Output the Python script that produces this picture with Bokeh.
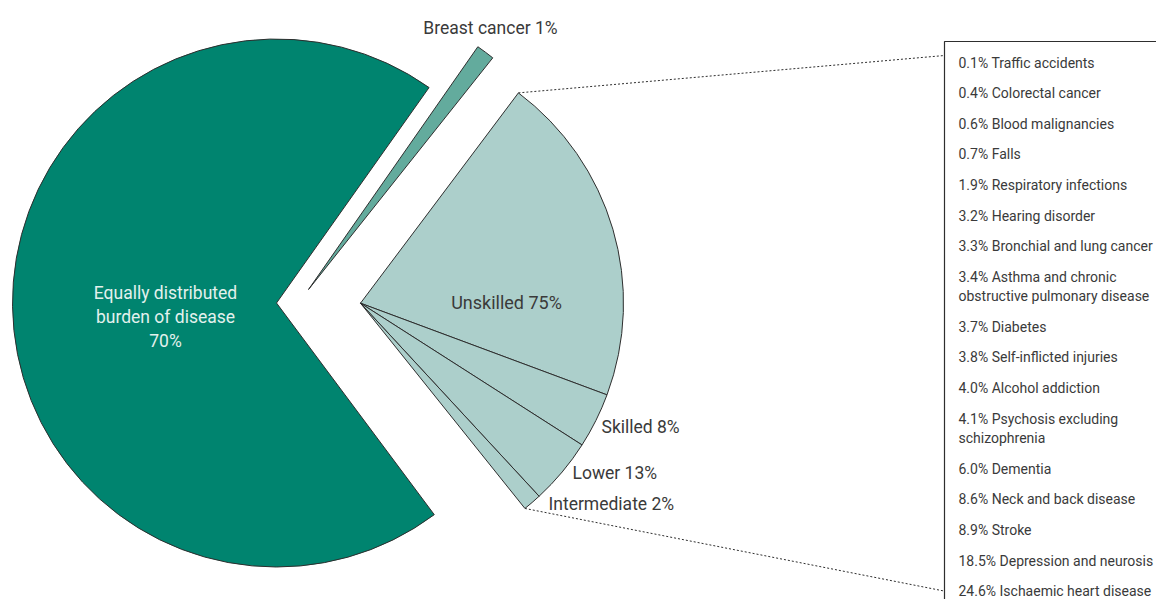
import math
from bokeh.plotting import figure
from bokeh.models import Range1d, ColumnDataSource
from bokeh.core.properties import value
from bokeh.embed import file_html
from bokeh.resources import INLINE

# ---------------- data ----------------
main_names = ["Equally distributed\nburden of disease\n70%", "Breast cancer 1%", "Inequality"]
main_values = [70, 1, 29]

sub_names = ["Unskilled", "Skilled", "Lower", "Intermediate"]
sub_values = [75, 8, 13, 2]                 # printed shares
sub_drawn = [70.4, 11.7, 14.0, 3.9]         # angular shares as drawn in the reference (% of wedge)

disease_pct = [0.1, 0.4, 0.6, 0.7, 1.9, 3.2, 3.3, 3.4, 3.7, 3.8, 4.0, 4.1,
               6.0, 8.6, 8.9, 18.5, 24.6]
disease_names = ["Traffic accidents", "Colorectal cancer", "Blood malignancies", "Falls",
                 "Respiratory infections", "Hearing disorder", "Bronchial and lung cancer",
                 "Asthma and chronic\nobstructive pulmonary disease", "Diabetes",
                 "Self-inflicted injuries", "Alcohol addiction",
                 "Psychosis excluding\nschizophrenia", "Dementia", "Neck and back disease",
                 "Stroke", "Depression and neurosis", "Ischaemic heart disease"]

# ---------------- style / layout ----------------
W, H = 1156, 599
PAGE_H = 615
FONT = value("Roboto")
DARK = "#00846f"
MID = "#63ab9d"
LIGHT = "#accfcb"
EDGE = "#2e2e2e"
TXT = "#3a3a3a"

def Y(y):  # picture pixel row -> data y
    return PAGE_H - y

R = math.radians

p = figure(width=W, height=H, output_backend="svg", toolbar_location=None,
           x_range=Range1d(0, W), y_range=Range1d(PAGE_H - H, PAGE_H),
           min_border=0, outline_line_color=None, background_fill_color="white",
           border_fill_color="white")
p.axis.visible = False
p.grid.visible = False

deg = 360.0 / sum(main_values)

# dark wedge (equally distributed)
d_cx, d_cy, d_r, d_mid = 276, 302.5, 264, 180.7
d_span = main_values[0] * deg
p.wedge(x=d_cx, y=Y(d_cy), radius=d_r, start_angle=R(d_mid - d_span / 2),
        end_angle=R(d_mid + d_span / 2),
        fill_color=DARK, line_color=EDGE, line_width=1)

# breast cancer wedge (exploded)
b_cx, b_cy, b_r, b_mid = 308, 289, 296, 53.3
b_span = main_values[1] * deg
p.wedge(x=b_cx, y=Y(b_cy), radius=b_r, start_angle=R(b_mid - b_span / 2),
        end_angle=R(b_mid + b_span / 2),
        fill_color=MID, line_color=EDGE, line_width=1)

# inequality wedge, split into sub slices
l_cx, l_cy, l_r, l_mid = 360, 302.7, 263, 0.9
l_span = main_values[2] * deg
top = l_mid + l_span / 2
starts, ends = [], []
a = top
tot = sum(sub_drawn)
for s in sub_drawn:
    span = l_span * s / tot
    ends.append(R(a))
    starts.append(R(a - span))
    a -= span
src = ColumnDataSource(dict(start=starts, end=ends))
p.wedge(x=l_cx, y=Y(l_cy), radius=l_r, start_angle="start", end_angle="end",
        source=src, fill_color=LIGHT, line_color=EDGE, line_width=1)

# legend rows in box
row0, gap, sub_gap = 62, 30.6, 19.5
xs, ys, ts = [], [], []
y = row0
for pct, name in zip(disease_pct, disease_names):
    lines = name.split("\n")
    for i, ln in enumerate(lines):
        xs.append(958)
        ys.append(Y(y + sub_gap * i))
        ts.append(("%.1f%% " % pct + ln) if i == 0 else ln)
    last_row = y
    y += gap + sub_gap * (len(lines) - 1)

# connector lines to the box
box_x, box_top = 944, 41
top_corner = (l_cx + l_r * math.cos(R(top)), l_cy - l_r * math.sin(R(top)))
bot_a = top - l_span
bot_corner = (l_cx + l_r * math.cos(R(bot_a)), l_cy - l_r * math.sin(R(bot_a)))
p.line([top_corner[0], box_x], [Y(top_corner[1]), Y(row0 - 7)], line_color=EDGE,
       line_width=1, line_dash="2 2")
p.line([bot_corner[0], box_x], [Y(bot_corner[1]), Y(last_row)], line_color=EDGE,
       line_width=1, line_dash="2 2")

# box
p.line([box_x, box_x, 1200], [Y(640), Y(box_top), Y(box_top)], line_color=EDGE, line_width=1.2)

p.text(x=xs, y=ys, text=ts, text_font=FONT, text_font_size="14px", text_color=TXT,
       text_baseline="middle", text_align="left")

# labels
eq_lines = main_names[0].split("\n")
p.text(x=[165] * 3, y=[Y(292), Y(316), Y(340)], text=eq_lines, text_font=FONT,
       text_font_size="17.5px", text_color="#e3f1ed", text_align="center",
       text_baseline="middle")
p.text(x=[490], y=[Y(27)], text=[main_names[1]], text_font=FONT, text_font_size="17.5px",
       text_color=TXT, text_align="center", text_baseline="middle")
p.text(x=[506], y=[Y(302)], text=["%s %d%%" % (sub_names[0], sub_values[0])], text_font=FONT,
       text_font_size="18px", text_color=TXT, text_align="center", text_baseline="middle")
lab_pos = [(601, 426), (572, 472), (548, 503)]
p.text(x=[q[0] for q in lab_pos], y=[Y(q[1]) for q in lab_pos],
       text=["%s %d%%" % (n, v) for n, v in zip(sub_names[1:], sub_values[1:])],
       text_font=FONT, text_font_size="17.5px", text_color=TXT, text_align="left",
       text_baseline="middle")

open("out.html", "w").write(file_html(p, INLINE))
